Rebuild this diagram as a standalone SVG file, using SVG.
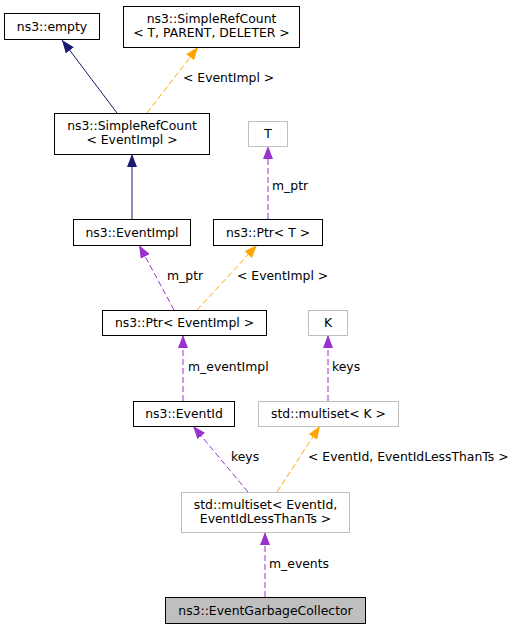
<svg xmlns="http://www.w3.org/2000/svg" width="519" height="629" viewBox="0 0 519 629">
<style>
text{font-family:"DejaVu Sans",sans-serif;font-size:12.4px;fill:#000}
.n text{text-anchor:middle}
.b{fill:#fff;stroke:#000;stroke-width:1}
.g{fill:#fff;stroke:#bfbfbf;stroke-width:1}
.e line{fill:none;stroke-width:1}
.nv{stroke:#191970}
.pu{stroke:#9a32cd;stroke-dasharray:6,3}
.or{stroke:#ffa500;stroke-dasharray:6,3}
</style>
<defs>
<marker id="anv" viewBox="0 0 13 10" refX="13" refY="5" markerWidth="13" markerHeight="10" markerUnits="userSpaceOnUse" orient="auto"><path d="M0,0L13,5L0,10z" fill="#191970"/></marker>
<marker id="apu" viewBox="0 0 13 10" refX="13" refY="5" markerWidth="13" markerHeight="10" markerUnits="userSpaceOnUse" orient="auto"><path d="M0,0L13,5L0,10z" fill="#9a32cd"/></marker>
<marker id="aor" viewBox="0 0 13 10" refX="13" refY="5" markerWidth="13" markerHeight="10" markerUnits="userSpaceOnUse" orient="auto"><path d="M0,0L13,5L0,10z" fill="#ffa500"/></marker>
</defs>
<rect width="519" height="629" fill="#fff"/>
<g id="edges" class="e">
<line class="nv" x1="117" y1="113" x2="62" y2="40" marker-end="url(#anv)"/>
<line class="or" x1="147" y1="113" x2="198" y2="47" marker-end="url(#aor)"/>
<line class="nv" x1="132" y1="219" x2="132" y2="154" marker-end="url(#anv)"/>
<line class="pu" x1="268" y1="219" x2="268" y2="146" marker-end="url(#apu)"/>
<line class="pu" x1="174" y1="310" x2="139" y2="245" marker-end="url(#apu)"/>
<line class="or" x1="197" y1="310" x2="257" y2="245" marker-end="url(#aor)"/>
<line class="pu" x1="183" y1="401" x2="183" y2="335" marker-end="url(#apu)"/>
<line class="pu" x1="328" y1="401" x2="328" y2="335" marker-end="url(#apu)"/>
<line class="pu" x1="248" y1="492" x2="193" y2="426" marker-end="url(#apu)"/>
<line class="or" x1="277" y1="492" x2="320" y2="426" marker-end="url(#aor)"/>
<line class="pu" x1="265" y1="597" x2="265" y2="532" marker-end="url(#apu)"/>
<text x="183" y="82">&lt; EventImpl &gt;</text>
<text x="272" y="190">m_ptr</text>
<text x="167" y="280">m_ptr</text>
<text x="237" y="280">&lt; EventImpl &gt;</text>
<text x="188" y="371">m_eventImpl</text>
<text x="332" y="371">keys</text>
<text x="231" y="461">keys</text>
<text x="308" y="461">&lt; EventId, EventIdLessThanTs &gt;</text>
<text x="269" y="568">m_events</text>
</g>
<g id="empty" class="n"><rect class="b" x="4.5" y="13.5" width="95" height="26"/><text x="52" y="30.5">ns3::empty</text></g>
<g id="srcT" class="n"><rect class="b" x="123.5" y="6.5" width="176" height="41"/><text x="211.5" y="23">ns3::SimpleRefCount</text><text x="211.5" y="37">&lt; T, PARENT, DELETER &gt;</text></g>
<g id="srcE" class="n"><rect class="b" x="54.5" y="113.5" width="155" height="41"/><text x="132" y="130">ns3::SimpleRefCount</text><text x="132" y="144">&lt; EventImpl &gt;</text></g>
<g id="T" class="n"><rect class="g" x="248.5" y="121.5" width="39" height="25"/><text x="268" y="138">T</text></g>
<g id="eventimpl" class="n"><rect class="b" x="73.5" y="219.5" width="117" height="26"/><text x="132" y="236.5">ns3::EventImpl</text></g>
<g id="ptrT" class="n"><rect class="b" x="213.5" y="219.5" width="109" height="26"/><text x="268" y="236.5">ns3::Ptr&lt; T &gt;</text></g>
<g id="ptrE" class="n"><rect class="b" x="102.5" y="310.5" width="164" height="25"/><text x="184.5" y="327">ns3::Ptr&lt; EventImpl &gt;</text></g>
<g id="K" class="n"><rect class="g" x="308.5" y="310.5" width="39" height="25"/><text x="328" y="327">K</text></g>
<g id="eventid" class="n"><rect class="b" x="133.5" y="401.5" width="101" height="25"/><text x="184" y="418">ns3::EventId</text></g>
<g id="msK" class="n"><rect class="g" x="258.5" y="401.5" width="140" height="25"/><text x="328.5" y="418">std::multiset&lt; K &gt;</text></g>
<g id="msE" class="n"><rect class="g" x="181.5" y="492.5" width="168" height="40"/><text x="265.5" y="509">std::multiset&lt; EventId,</text><text x="265.5" y="523">EventIdLessThanTs &gt;</text></g>
<g id="egc" class="n"><rect x="165.5" y="597.5" width="200" height="26" fill="#bfbfbf" stroke="#000"/><text x="265.5" y="614.5">ns3::EventGarbageCollector</text></g>
</svg>
